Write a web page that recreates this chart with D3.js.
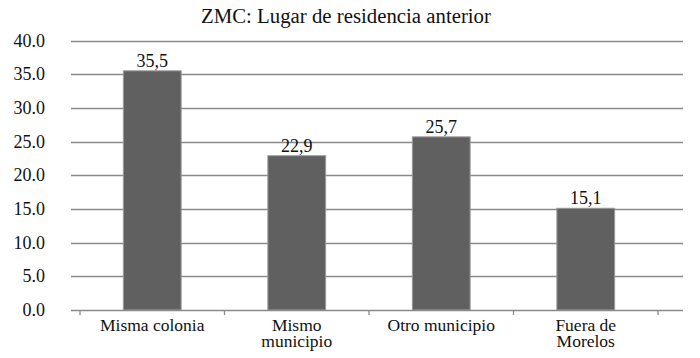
<!DOCTYPE html>
<html><head><meta charset="utf-8">
<script src="https://cdn.jsdelivr.net/npm/d3@7"></script>
<style>body{margin:0;background:#fff}svg{display:block}</style>
</head><body>
<svg id="c" width="700" height="358"></svg>
<script>
const categories = [["Misma colonia"], ["Mismo", "municipio"], ["Otro municipio"], ["Fuera de", "Morelos"]];
const values = [35.5, 22.9, 25.7, 15.1];
const valueLabels = ["35,5", "22,9", "25,7", "15,1"];
const yTicks = [0, 5, 10, 15, 20, 25, 30, 35, 40];
const title = "ZMC: Lugar de residencia anterior";

const FONT = '"Liberation Serif", serif';
const svg = d3.select("#c");
const gridLeft = 71, gridRight = 683;
const x = d3.scaleBand().domain(d3.range(categories.length)).range([80, 658]).paddingInner(0.6).paddingOuter(0.3);
const y = d3.scaleLinear().domain([0, 40]).range([310, 40.5]);

svg.append("text").attr("x", 346).attr("y", 23).attr("text-anchor", "middle")
  .style("font-family", FONT).style("font-size", "20.8px").attr("fill", "#111").text(title);

// gridlines
svg.append("g").selectAll("line").data(yTicks.slice(1)).join("line")
  .attr("x1", gridLeft).attr("x2", gridRight)
  .attr("y1", d => Math.round(y(d)) + 0.5).attr("y2", d => Math.round(y(d)) + 0.5)
  .attr("stroke", "#8a8a8a").attr("stroke-width", 1.4);

// y labels
svg.append("g").selectAll("text").data(yTicks).join("text")
  .attr("x", 45).attr("y", d => y(d) + 6).attr("text-anchor", "end")
  .style("font-family", FONT).style("font-size", "18px").attr("fill", "#111")
  .text(d => d3.format(".1f")(d));

// bars
svg.append("g").selectAll("rect").data(values).join("rect")
  .attr("x", (d, i) => x(i)).attr("width", x.bandwidth())
  .attr("y", d => y(d)).attr("height", d => y(0) - y(d))
  .attr("fill", "#606060").attr("stroke", "#9a9a9a").attr("stroke-width", 1);

// value labels
svg.append("g").selectAll("text").data(values).join("text")
  .attr("x", (d, i) => x(i) + x.bandwidth() / 2).attr("y", d => y(d) - 4)
  .attr("text-anchor", "middle").style("font-family", FONT).style("font-size", "18px").attr("fill", "#111")
  .text((d, i) => valueLabels[i]);

// x axis line
svg.append("line").attr("x1", gridLeft).attr("x2", gridRight).attr("y1", 310.5).attr("y2", 310.5)
  .attr("stroke", "#8a8a8a").attr("stroke-width", 1.4);
const bounds = d3.range(categories.length + 1).map(i => 80 + i * (578 / categories.length));
svg.append("g").selectAll("line").data(bounds).join("line")
  .attr("x1", d => d).attr("x2", d => d).attr("y1", 310).attr("y2", 315)
  .attr("stroke", "#8a8a8a").attr("stroke-width", 1.3);

// x labels (one text per line)
const lines = [];
categories.forEach((c, i) => c.forEach((t, j) => lines.push({ i, j, t })));
svg.append("g").selectAll("text").data(lines).join("text")
  .attr("x", d => x(d.i) + x.bandwidth() / 2).attr("y", d => 331 + d.j * 15.5)
  .attr("text-anchor", "middle").style("font-family", FONT).style("font-size", "17.5px").attr("fill", "#111")
  .text(d => d.t);
</script>
</body></html>
